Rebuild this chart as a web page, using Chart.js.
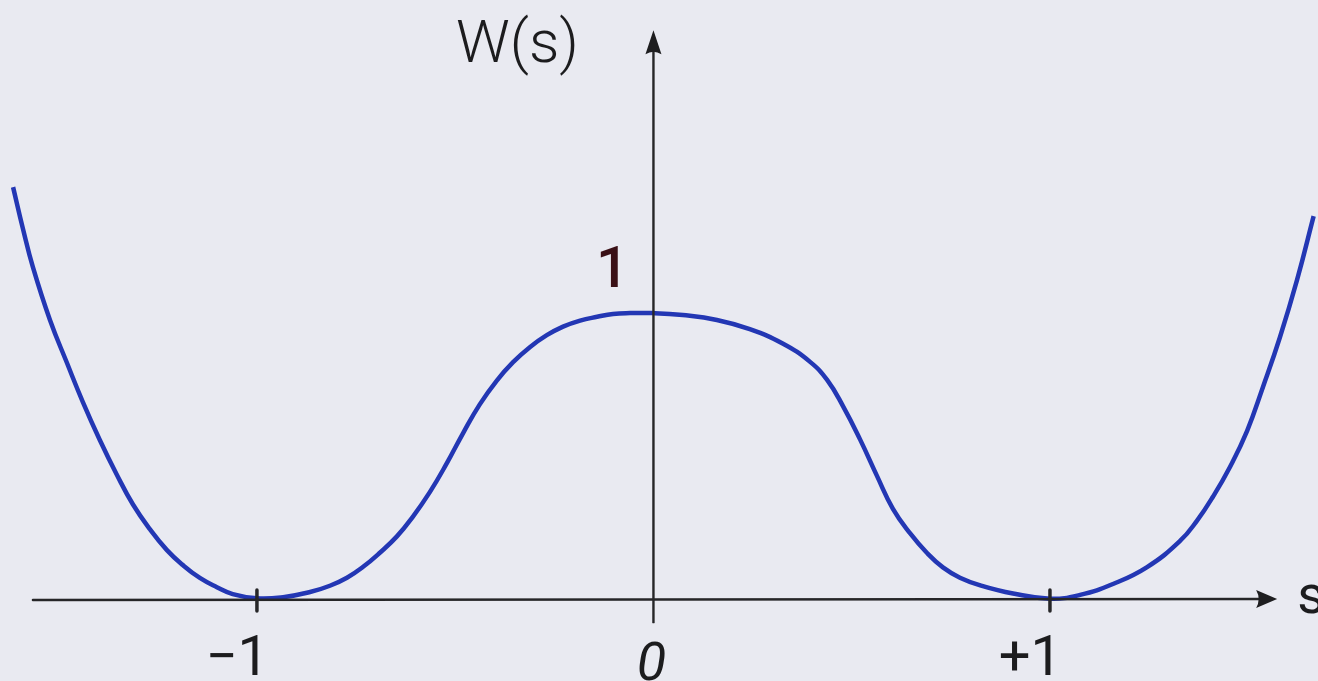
<!DOCTYPE html>
<html>
<head>
<meta charset="utf-8">
<script src="https://cdn.jsdelivr.net/npm/chart.js@4.4.1/dist/chart.umd.min.js"></script>
<style>
    html, body { margin: 0; padding: 0; background: #e9eaf1; overflow: hidden; }
    #wrap { width: 1318px; height: 681px; position: relative; }
</style>
</head>
<body>
<div id="wrap"><canvas id="mycanvas_well"></canvas></div>
<script>
var sValues = [-1.615, -1.590, -1.565, -1.522, -1.479, -1.439, -1.396, -1.353, -1.313, -1.270,
    -1.227, -1.187, -1.144, -1.101, -1.061, -1.000, -0.934, -0.866, -0.816, -0.773,
    -0.733, -0.690, -0.647, -0.607, -0.564, -0.521, -0.480, -0.438, -0.395, -0.354,
    -0.311, -0.269, -0.228, -0.185, -0.142, -0.102, -0.059, 0.000, 0.074, 0.160,
    0.243, 0.327, 0.395, 0.438, 0.478, 0.521, 0.564, 0.604, 0.647, 0.690,
    0.730, 0.773, 0.823, 0.907, 1.000, 1.076, 1.159, 1.245, 1.328, 1.371,
    1.411, 1.454, 1.497, 1.537, 1.580, 1.623, 1.665];
var wValues = [1.439, 1.293, 1.160, 0.976, 0.826, 0.690, 0.557, 0.436, 0.334, 0.247,
    0.174, 0.122, 0.077, 0.045, 0.021, 0.006, 0.010, 0.028, 0.050, 0.078,
    0.115, 0.165, 0.222, 0.290, 0.376, 0.477, 0.582, 0.682, 0.765, 0.829,
    0.882, 0.923, 0.953, 0.974, 0.987, 0.997, 1.000, 1.000, 0.993, 0.976,
    0.944, 0.893, 0.830, 0.767, 0.676, 0.560, 0.432, 0.318, 0.233, 0.164,
    0.114, 0.078, 0.052, 0.023, 0.005, 0.018, 0.056, 0.115, 0.206, 0.277,
    0.360, 0.464, 0.589, 0.742, 0.916, 1.115, 1.338];

var xRange = [-1.648, 1.676];
var yRange = [-0.282, 2.091];
var xAxisSpan = [-1.565, 1.573];
var yAxisSpan = [-0.077, 1.986];
var tickValues = [-1, 0, 1];
var tickLabels = ['\u22121', '0', '+1'];
var yTickValue = 1;
var yTickLabel = '1';
var yTitle = 'W(s)';
var xTitle = 's';

document.addEventListener('DOMContentLoaded', function () {
    var ctx_well = document.getElementById('mycanvas_well').getContext('2d');

    var points = [];
    for (var i = 0; i < sValues.length; i++) {
        points.push({x: sValues[i], y: wValues[i]});
    }

    var inkAxes = {
        id: 'inkAxes',
        afterDatasetsDraw: function (chart) {
            var c = chart.ctx;
            var sx = chart.scales.x, sy = chart.scales.y;
            var x0 = sx.getPixelForValue(0), y0 = sy.getPixelForValue(0);
            var xl = sx.getPixelForValue(xAxisSpan[0]), xr = sx.getPixelForValue(xAxisSpan[1]);
            var yb = sy.getPixelForValue(yAxisSpan[0]), yt = sy.getPixelForValue(yAxisSpan[1]);
            c.save();
            c.strokeStyle = '#262628';
            c.fillStyle = '#1e1e20';
            c.lineWidth = 2.4;
            c.lineCap = 'round';
            // horizontal axis
            c.beginPath();
            c.moveTo(xl, y0);
            c.lineTo(xr - 10, y0 - 1);
            c.stroke();
            c.beginPath();
            c.moveTo(xr, y0 - 1);
            c.lineTo(xr - 21, y0 - 10);
            c.quadraticCurveTo(xr - 16, y0 - 1, xr - 21, y0 + 8);
            c.closePath();
            c.fill();
            // vertical axis
            c.beginPath();
            c.moveTo(x0, yb);
            c.lineTo(x0, yt + 10);
            c.stroke();
            c.beginPath();
            c.moveTo(x0, yt);
            c.lineTo(x0 - 8, yt + 24);
            c.quadraticCurveTo(x0, yt + 19, x0 + 8, yt + 24);
            c.closePath();
            c.fill();
            // ticks at -1 and +1
            c.lineWidth = 3.5;
            [-1, 1].forEach(function (v) {
                var px = sx.getPixelForValue(v);
                c.beginPath();
                c.moveTo(px, y0 - 10);
                c.lineTo(px, y0 + 11);
                c.stroke();
            });
            // tick labels
            c.fillStyle = '#1c1c1e';
            c.textBaseline = 'alphabetic';
            for (var k = 0; k < tickValues.length; k++) {
                var tx = sx.getPixelForValue(tickValues[k]);
                if (tickValues[k] === 0) {
                    c.font = 'italic 400 54px Roboto';
                    c.textAlign = 'center';
                    c.fillText(tickLabels[k], tx - 2, y0 + 80);
                } else {
                    c.font = '400 56px Roboto';
                    c.textAlign = 'right';
                    c.fillText(tickLabels[k], tx + 12, y0 + 75);
                }
            }
            // y value label
            c.fillStyle = '#3a1016';
            c.font = '500 58px Roboto';
            c.textAlign = 'center';
            c.fillText(yTickLabel, x0 - 41, sy.getPixelForValue(yTickValue) - 26);
            // axis titles
            c.fillStyle = '#1c1c1e';
            c.font = '300 60px Roboto';
            c.textAlign = 'left';
            c.fillText(yTitle, 456, 62);
            c.font = '400 54px Roboto';
            c.fillText(xTitle, xr + 20, y0 + 13);
            c.restore();
        }
    };

    var myChart_well = new Chart(ctx_well, {
        type: 'line',
        data: {
            datasets: [{
                label: 'W(s)',
                data: points,
                borderColor: '#2337b4',
                borderWidth: 4.5,
                pointRadius: 0,
                fill: false,
                tension: 0.45
            }]
        },
        options: {
            responsive: true,
            maintainAspectRatio: false,
            animation: false,
            layout: { padding: 0 },
            plugins: {
                legend: { display: false },
                tooltip: { enabled: false }
            },
            scales: {
                x: { type: 'linear', min: xRange[0], max: xRange[1], display: false },
                y: { type: 'linear', min: yRange[0], max: yRange[1], display: false }
            }
        },
        plugins: [inkAxes]
    });
}, false);
</script>
</body>
</html>
